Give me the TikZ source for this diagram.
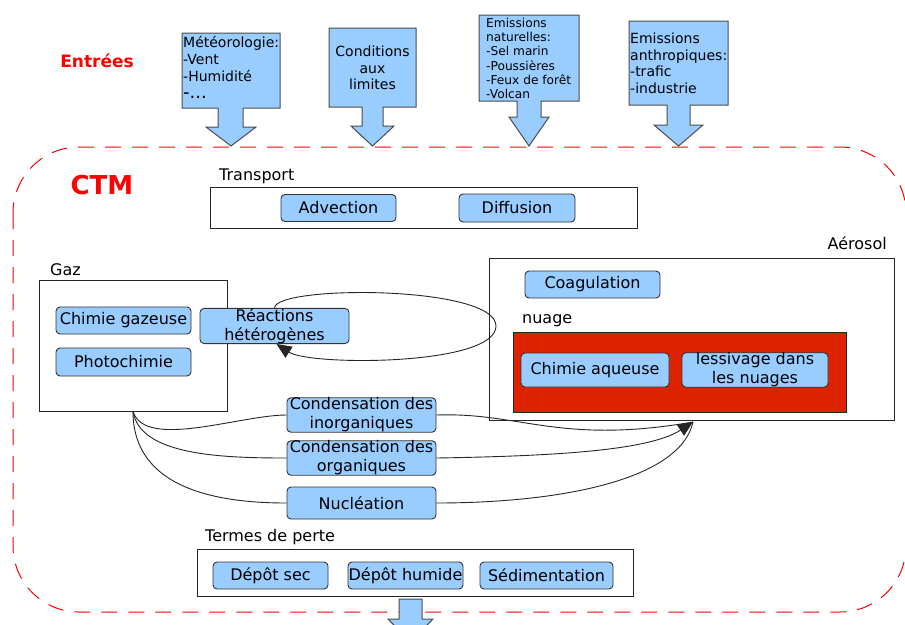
\documentclass[tikz,border=0pt]{standalone}
\usepackage{fontspec}
\setmainfont{DejaVu Sans}
\usetikzlibrary{arrows.meta}
\definecolor{bleu}{RGB}{153,204,255}
\definecolor{rougenuage}{RGB}{221,34,0}
\tikzset{
	boite/.style={draw=black!80, fill=bleu, line width=0.9pt, rounded corners=4pt, inner sep=0pt, align=center, font=\fontsize{16}{19}\selectfont},
	groupe/.style={draw=black!85, line width=0.9pt, inner sep=0pt},
	titre/.style={inner sep=0pt, font=\fontsize{16}{19}\selectfont},
	entree/.style={draw=black!70, fill=bleu, line width=1pt},
	lien/.style={black!85, line width=0.9pt},
	fleche/.style={-{Triangle[length=15pt, width=13pt]}},
}

\begin{document}
\begin{tikzpicture}[x=1pt, y=-1pt]
	\useasboundingbox (0,0) rectangle (905,624);
	\clip (0,0) rectangle (905,624);

%CTM
	\draw[red, line width=1pt, dash pattern=on 16pt off 11pt, rounded corners=66pt] (13,147) rectangle (906,612);
	\node[red, inner sep=0pt, font=\fontsize{26}{30}\selectfont\bfseries] (ctm) at (102,185) {CTM};

%entrees
	\node[red, inner sep=0pt, font=\fontsize{17}{20}\selectfont\bfseries] (entrees) at (97,61) {Entrées};

	\filldraw[entree] (182,33) -- (280,33) -- (280,108) -- (243,108) -- (243,127) -- (256,127) -- (231,146) -- (206,127) -- (218,127) -- (218,108) -- (182,108) -- cycle;
	\node[anchor=north west, inner sep=0pt, align=left, font=\fontsize{14}{17}\selectfont] (meteo) at (183,36)
		{Météorologie:\\-Vent\\-Humidité\\{\fontsize{18}{19}\selectfont -...}};

	\filldraw[entree] (329,28) -- (416,28) -- (416,107) -- (383,107) -- (383,126) -- (394,126) -- (372.5,146) -- (351,126) -- (362,126) -- (362,107) -- (329,107) -- cycle;
	\node[inner sep=0pt, align=center, font=\fontsize{14}{16.5}\selectfont] (limites) at (372.5,68)
		{Conditions\\aux\\limites};

	\filldraw[entree] (479,15) -- (579,15) -- (579,101) -- (541,101) -- (541,117) -- (549,117) -- (529,146) -- (509,117) -- (517,117) -- (517,101) -- (479,101) -- cycle;
	\node[anchor=north west, inner sep=0pt, align=left, font=\fontsize{12.2}{14.2}\selectfont] (naturelles) at (486,18)
		{Emissions\\naturelles:\\-Sel marin\\-Poussières\\-Feux de forêt\\-Volcan};

	\filldraw[entree] (629,21) -- (728,21) -- (728,105) -- (690,105) -- (690,125) -- (703,125) -- (678.5,146) -- (654,125) -- (667,125) -- (667,105) -- (629,105) -- cycle;
	\node[anchor=north west, inner sep=0pt, align=left, font=\fontsize{14}{16.5}\selectfont] (anthropiques) at (630,33)
		{Emissions\\anthropiques:\\-trafic\\-industrie};

%groupes
	\node[groupe, minimum width=427, minimum height=41] (transport) at (423.5,207.5) {};
	\node[groupe, minimum width=188, minimum height=131] (gaz) at (133,345.5) {};
	\node[groupe, minimum width=405, minimum height=162] (aerosol) at (691.5,339) {};
	\node[groupe, fill=rougenuage, minimum width=333, minimum height=80] (nuage) at (679.5,372) {};
	\node[groupe, minimum width=436, minimum height=47] (pertes) at (415,572.5) {};

	\node[titre, anchor=west] (ltransport) at (219,176) {Transport};
	\node[titre, anchor=west] (lgaz) at (50,270) {Gaz};
	\node[titre, anchor=east] (laerosol) at (887,243) {Aérosol};
	\node[titre, anchor=west] (lnuage) at (522,321) {nuage};
	\node[titre, anchor=west] (lpertes) at (205,537) {Termes de perte};

%processus
	\foreach \xy/\nom/\larg/\haut/\texte in {
		{(338.5,208)/adv/115/27/Advection}, {(517,208)/diff/116/28/Diffusion},
		{(123.5,320.5)/chgaz/135/27/Chimie gazeuse}, {(123.5,362)/photo/135/28/Photochimie},
		{(274.5,326)/rh/149/34/Réactions\\hétérogènes},
		{(592.5,284.5)/coag/135/27/Coagulation},
		{(595,370)/chaq/148/34/Chimie aqueuse}, {(755,370)/less/146/34/lessivage dans\\les nuages},
		{(361.5,415)/cinorg/149/34/Condensation des\\inorganiques},
		{(361.5,458)/corg/149/34/Condensation des\\organiques},
		{(361.5,503)/nucl/149/32/Nucléation},
		{(270.5,575.5)/dsec/115/27/Dépôt sec}, {(405.5,575.5)/dhum/115/27/Dépôt humide},
		{(546.5,575.5)/sedim/133/27/Sédimentation}} {
		\node[boite, minimum width=\larg, minimum height=\haut] (\nom) at \xy {\texte};
	}

%liens
	\draw[lien, fleche] (rh.north) .. controls (275,285) and (496,285) .. (496,326)
		.. controls (496,366) and (310,366) .. ([xshift=2pt]rh.south);

	\coordinate (entreeaer) at (693,422);
	\draw[lien] (gaz.south) .. controls (145,450) and (240,415) .. (cinorg.west);
	\draw[lien] (gaz.south) .. controls (140,455) and (220,458) .. (corg.west);
	\draw[lien] (gaz.south) .. controls (133,490) and (220,503) .. (nucl.west);
	\draw[lien] (cinorg.east) .. controls (520,412) and (560,445) .. (entreeaer);
	\draw[lien, fleche] (corg.east) .. controls (560,456) and (650,450) .. (entreeaer);
	\draw[lien] (nucl.east) .. controls (560,503) and (680,480) .. (entreeaer);

%sortie
	\filldraw[entree] (399,599) -- (422,599) -- (422,619) -- (433,619) -- (410.5,642) -- (388,619) -- (399,619) -- cycle;

\end{tikzpicture}
\end{document}
